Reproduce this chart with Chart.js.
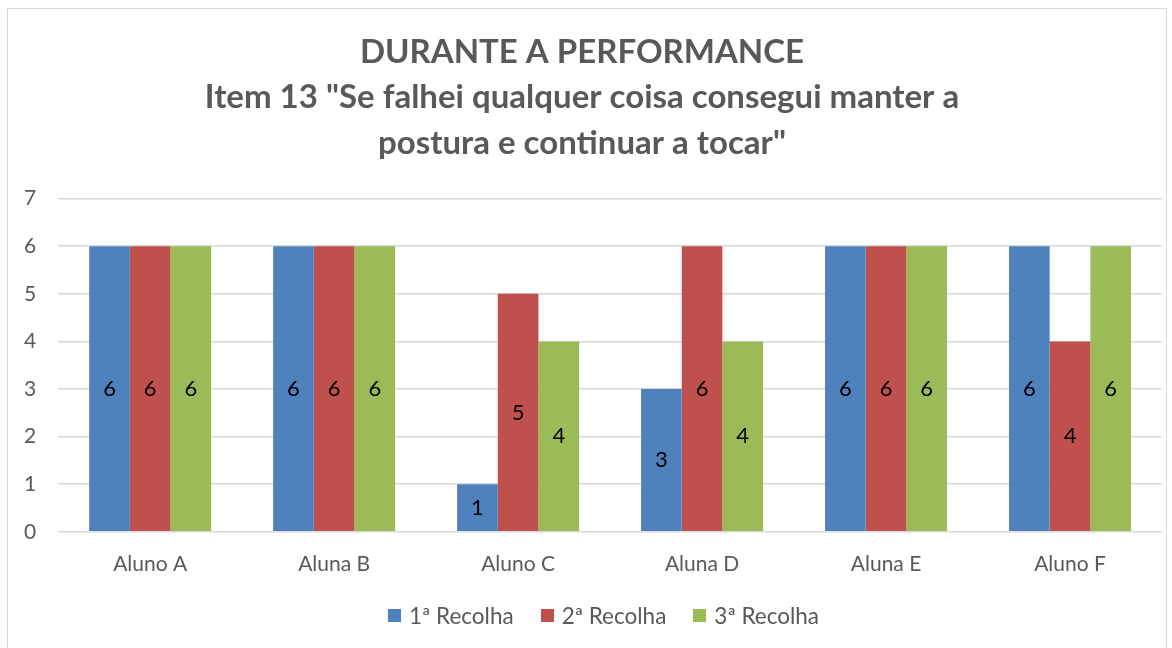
<!DOCTYPE html>
<html>
<head>
<meta charset="utf-8">
<script src="https://cdn.jsdelivr.net/npm/chart.js@4/dist/chart.umd.min.js"></script>
<style>
  html, body { margin: 0; padding: 0; background: #fff; }
  #wrap { position: relative; width: 1172px; height: 648px; overflow: hidden; font-family: Lato, "Open Sans", sans-serif; }
  #frame { position: absolute; left: 7px; top: 8px; width: 1160px; height: 660px; border: 1px solid #d9d9d9; box-sizing: border-box; }
  canvas { position: absolute; left: 0; top: 0; }
  #legend { position: absolute; left: 388px; top: 601px; height: 28px; display: flex; align-items: center; gap: 27px; color: #595959; font-size: 22.5px; }
  .legend-item { display: flex; align-items: center; gap: 8px; white-space: nowrap; }
  .legend-swatch { width: 13px; height: 13px; display: inline-block; }
</style>
</head>
<body>
<div id="wrap">
  <div id="frame"></div>
  <canvas id="chart" width="1172" height="648"></canvas>
  <div id="legend"></div>
</div>
<script>
// Chart data
const alunos = ['Aluno A', 'Aluna B', 'Aluno C', 'Aluna D', 'Aluna E', 'Aluno F'];
const recolha1 = [6, 6, 1, 3, 6, 6];
const recolha2 = [6, 6, 5, 6, 6, 4];
const recolha3 = [6, 6, 4, 4, 6, 6];
const titleLines = ['DURANTE A PERFORMANCE', 'Item 13 "Se falhei qualquer coisa consegui manter a', 'postura e continuar a tocar"'];

const FONT = 'Lato, "Open Sans", sans-serif';
const GREY = '#595959';

// Draw the value in the middle of each bar
const barLabels = {
  id: 'barLabels',
  afterDatasetsDraw(chart) {
    const ctx = chart.ctx;
    ctx.save();
    ctx.fillStyle = '#000';
    ctx.font = '22px ' + FONT;
    ctx.textAlign = 'center';
    ctx.textBaseline = 'middle';
    chart.data.datasets.forEach((ds, i) => {
      chart.getDatasetMeta(i).data.forEach((bar, j) => {
        const yMid = (bar.y + bar.base) / 2;
        ctx.fillText(String(ds.data[j]), bar.x, yMid);
      });
    });
    ctx.restore();
  }
};

const chart = new Chart(document.getElementById('chart'), {
  type: 'bar',
  data: {
    labels: alunos,
    datasets: [
      { label: '1ª Recolha', data: recolha1, backgroundColor: '#4F81BD' },
      { label: '2ª Recolha', data: recolha2, backgroundColor: '#C0504D' },
      { label: '3ª Recolha', data: recolha3, backgroundColor: '#9BBB59' },
    ],
  },
  options: {
    responsive: false,
    animation: false,
    layout: { padding: { left: 2, right: 10, top: 14, bottom: 59 } },
    datasets: { bar: { categoryPercentage: 0.663, barPercentage: 1.0 } },
    plugins: {
      title: {
        display: true,
        text: titleLines,
        color: GREY,
        font: { family: FONT, size: 33, weight: 'bold', lineHeight: 1.39 },
        padding: { top: 15, bottom: 32 },
      },
      legend: { display: false },
      tooltip: { enabled: false },
    },
    scales: {
      x: {
        grid: { display: false },
        border: { display: false },
        ticks: { color: GREY, font: { family: FONT, size: 21 }, padding: 12 },
      },
      y: {
        min: 0,
        max: 7,
        ticks: { stepSize: 1, color: GREY, font: { family: FONT, size: 21 }, padding: 22 },
        grid: { color: '#d9d9d9', lineWidth: 1.5, drawTicks: false },
        border: { display: false },
      },
    },
  },
  plugins: [barLabels],
});

// HTML legend built from the datasets
document.getElementById('legend').innerHTML = chart.data.datasets.map(ds => `
  <div class="legend-item">
    <span class="legend-swatch" style="background:${ds.backgroundColor};"></span>
    ${ds.label}
  </div>`).join('');
</script>
</body>
</html>
